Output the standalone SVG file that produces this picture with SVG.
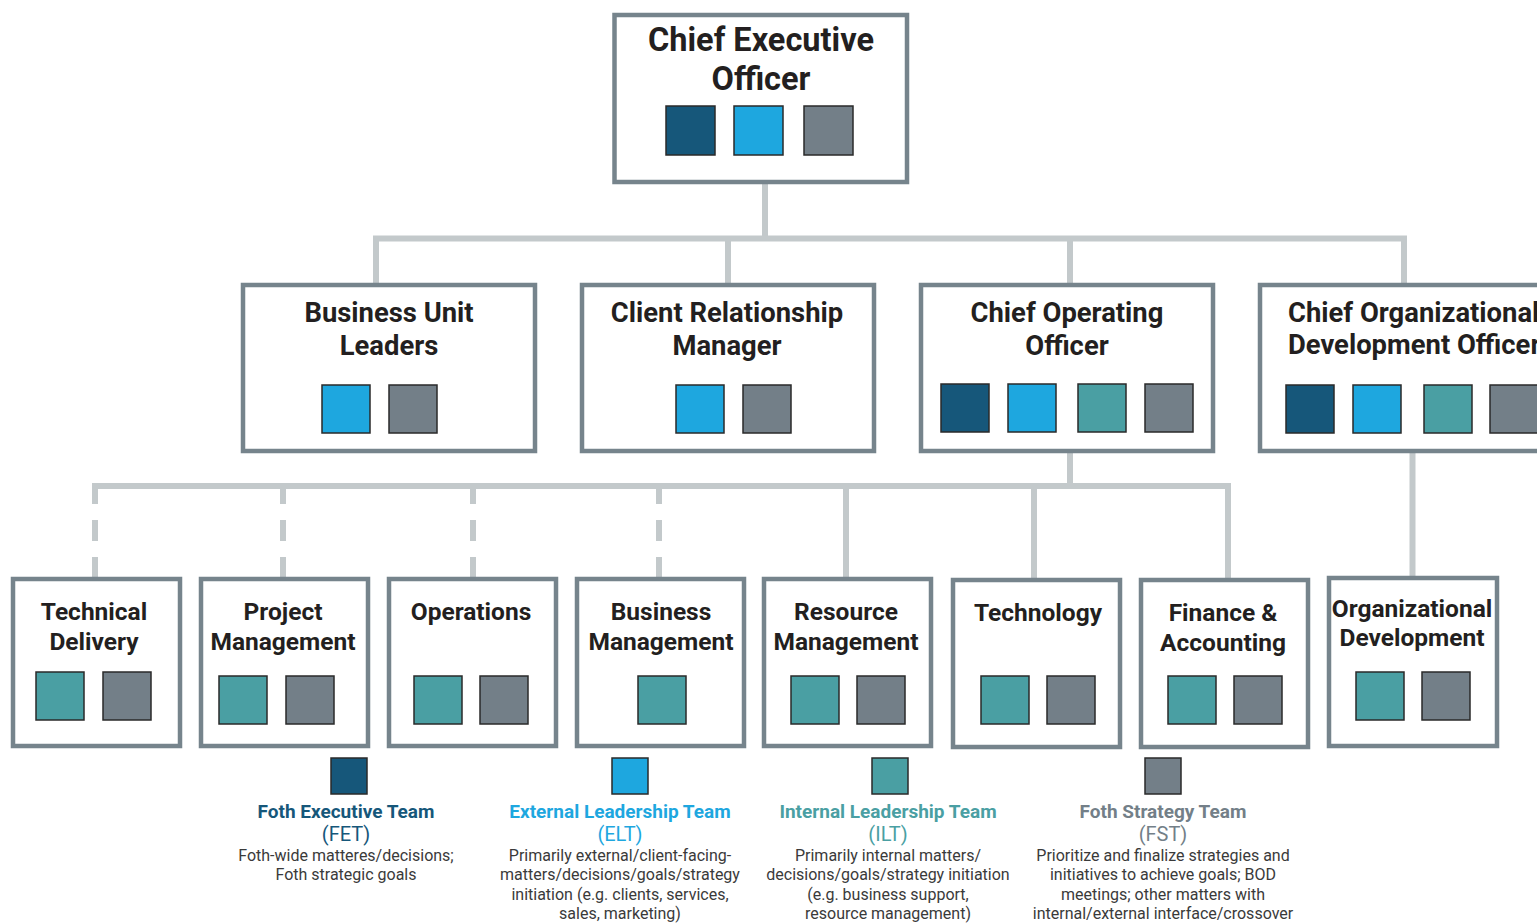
<svg xmlns="http://www.w3.org/2000/svg" width="1537" height="924" viewBox="0 0 1537 924">
<style>
.box{fill:#fff;stroke:#76848c;stroke-width:4.5}
.sq{stroke:#2a2a2a;stroke-width:1.5}
.c1{fill:#16577a}.c2{fill:#1ea7df}.c3{fill:#4a9fa3}.c4{fill:#737f88}
.t1{font-family:Roboto,"Liberation Sans",sans-serif;font-weight:700;fill:#231f20;text-anchor:middle}
.ceo{font-size:32.5px}.l2{font-size:27.4px}.l3{font-size:24.5px}
.con{fill:none;stroke:#c3c9cb;stroke-width:6}
.dash{stroke-dasharray:21 16}
.lt{font-family:Roboto,"Liberation Sans",sans-serif;font-weight:700;font-size:19px;text-anchor:middle}
.la{font-family:Roboto,"Liberation Sans",sans-serif;font-weight:400;font-size:20px;text-anchor:middle}
.ld{font-family:Roboto,"Liberation Sans",sans-serif;font-weight:400;font-size:16px;text-anchor:middle;fill:#3a3a3a}
</style>
<rect width="1537" height="924" fill="#fff"/>
<g id="connectors">
<path class="con" d="M765,184 V238.5"/>
<path class="con" d="M376,283 V238.5 H1404 V283"/>
<path class="con" d="M728,238.5 V283"/>
<path class="con" d="M1070,238.5 V283"/>
<path class="con" d="M1070,453 V486"/>
<path class="con" d="M92,486 H1228 V578"/>
<path class="con" d="M846,486 V578"/>
<path class="con" d="M1034,486 V578"/>
<path class="con dash" d="M95,483 V578"/>
<path class="con dash" d="M283,483 V578"/>
<path class="con dash" d="M473,483 V578"/>
<path class="con dash" d="M659,483 V578"/>
<path class="con" d="M1412.5,453 V577"/>
</g>
<g id="ceo">
<rect class="box" x="614.5" y="15" width="292.5" height="167"/>
<text class="t1 ceo" x="761" y="51">Chief Executive</text>
<text class="t1 ceo" x="761" y="90">Officer</text>
<rect class="sq c1" x="666" y="106" width="49" height="49"/>
<rect class="sq c2" x="734" y="106" width="49" height="49"/>
<rect class="sq c4" x="804" y="106" width="49" height="49"/>
</g>
<g id="business-unit-leaders">
<rect class="box" x="243" y="285" width="292" height="166"/>
<text class="t1 l2" x="389" y="322">Business Unit</text>
<text class="t1 l2" x="389" y="355">Leaders</text>
<rect class="sq c2" x="322" y="385" width="48" height="48"/>
<rect class="sq c4" x="389" y="385" width="48" height="48"/>
</g>
<g id="client-relationship-manager">
<rect class="box" x="582" y="285" width="292" height="166"/>
<text class="t1 l2" x="727" y="322">Client Relationship</text>
<text class="t1 l2" x="727" y="355">Manager</text>
<rect class="sq c2" x="676" y="385" width="48" height="48"/>
<rect class="sq c4" x="743" y="385" width="48" height="48"/>
</g>
<g id="coo">
<rect class="box" x="921" y="285" width="292" height="166"/>
<text class="t1 l2" x="1067" y="322">Chief Operating</text>
<text class="t1 l2" x="1067" y="355">Officer</text>
<rect class="sq c1" x="941" y="384" width="48" height="48"/>
<rect class="sq c2" x="1008" y="384" width="48" height="48"/>
<rect class="sq c3" x="1078" y="384" width="48" height="48"/>
<rect class="sq c4" x="1145" y="384" width="48" height="48"/>
</g>
<g id="codo">
<rect class="box" x="1260" y="285" width="292" height="166"/>
<text class="t1 l2" x="1288" y="322" style="text-anchor:start">Chief Organizational</text>
<text class="t1 l2" x="1288" y="354" style="text-anchor:start">Development Officer</text>
<rect class="sq c1" x="1286" y="385" width="48" height="48"/>
<rect class="sq c2" x="1353" y="385" width="48" height="48"/>
<rect class="sq c3" x="1424" y="385" width="48" height="48"/>
<rect class="sq c4" x="1490" y="385" width="48" height="48"/>
</g>
<g id="technical-delivery">
<rect class="box" x="13" y="579" width="167" height="167"/>
<text class="t1 l3" x="94" y="620">Technical</text>
<text class="t1 l3" x="94" y="650">Delivery</text>
<rect class="sq c3" x="36" y="672" width="48" height="48"/>
<rect class="sq c4" x="103" y="672" width="48" height="48"/>
</g>
<g id="project-management">
<rect class="box" x="201" y="579" width="167" height="167"/>
<text class="t1 l3" x="283" y="620">Project</text>
<text class="t1 l3" x="283" y="650">Management</text>
<rect class="sq c3" x="219" y="676" width="48" height="48"/>
<rect class="sq c4" x="286" y="676" width="48" height="48"/>
</g>
<g id="operations">
<rect class="box" x="389" y="579" width="167" height="167"/>
<text class="t1 l3" x="471" y="620">Operations</text>
<rect class="sq c3" x="414" y="676" width="48" height="48"/>
<rect class="sq c4" x="480" y="676" width="48" height="48"/>
</g>
<g id="business-management">
<rect class="box" x="577" y="579" width="167" height="167"/>
<text class="t1 l3" x="661" y="620">Business</text>
<text class="t1 l3" x="661" y="650">Management</text>
<rect class="sq c3" x="638" y="676" width="48" height="48"/>
</g>
<g id="resource-management">
<rect class="box" x="764" y="579" width="167" height="167"/>
<text class="t1 l3" x="846" y="620">Resource</text>
<text class="t1 l3" x="846" y="650">Management</text>
<rect class="sq c3" x="791" y="676" width="48" height="48"/>
<rect class="sq c4" x="857" y="676" width="48" height="48"/>
</g>
<g id="technology">
<rect class="box" x="953" y="580" width="167" height="167"/>
<text class="t1 l3" x="1038" y="621">Technology</text>
<rect class="sq c3" x="981" y="676" width="48" height="48"/>
<rect class="sq c4" x="1047" y="676" width="48" height="48"/>
</g>
<g id="finance-accounting">
<rect class="box" x="1141" y="580" width="167" height="167"/>
<text class="t1 l3" x="1223" y="621">Finance &amp;</text>
<text class="t1 l3" x="1223" y="651">Accounting</text>
<rect class="sq c3" x="1168" y="676" width="48" height="48"/>
<rect class="sq c4" x="1234" y="676" width="48" height="48"/>
</g>
<g id="organizational-development">
<rect class="box" x="1329" y="578" width="168" height="168"/>
<text class="t1 l3" x="1412" y="617">Organizational</text>
<text class="t1 l3" x="1412" y="646">Development</text>
<rect class="sq c3" x="1356" y="672" width="48" height="48"/>
<rect class="sq c4" x="1422" y="672" width="48" height="48"/>
</g>
<g id="legend-fet">
<rect class="sq c1" x="331" y="758" width="36" height="36"/>
<text class="lt" x="346" y="818" fill="#16577a">Foth Executive Team</text>
<text class="la" x="346" y="841" fill="#16577a">(FET)</text>
<text class="ld" x="346" y="861">Foth-wide matteres/decisions;</text>
<text class="ld" x="346" y="880">Foth strategic goals</text>
</g>
<g id="legend-elt">
<rect class="sq c2" x="612" y="758" width="36" height="36"/>
<text class="lt" x="620" y="818" fill="#1ea7df">External Leadership Team</text>
<text class="la" x="620" y="841" fill="#1ea7df">(ELT)</text>
<text class="ld" x="620" y="861">Primarily external/client-facing-</text>
<text class="ld" x="620" y="880">matters/decisions/goals/strategy</text>
<text class="ld" x="620" y="900">initiation (e.g. clients, services,</text>
<text class="ld" x="620" y="919">sales, marketing)</text>
</g>
<g id="legend-ilt">
<rect class="sq c3" x="872" y="758" width="36" height="36"/>
<text class="lt" x="888" y="818" fill="#4a9fa3">Internal Leadership Team</text>
<text class="la" x="888" y="841" fill="#4a9fa3">(ILT)</text>
<text class="ld" x="888" y="861">Primarily internal matters/</text>
<text class="ld" x="888" y="880">decisions/goals/strategy initiation</text>
<text class="ld" x="888" y="900">(e.g. business support,</text>
<text class="ld" x="888" y="919">resource management)</text>
</g>
<g id="legend-fst">
<rect class="sq c4" x="1145" y="758" width="36" height="36"/>
<text class="lt" x="1163" y="818" fill="#737f88">Foth Strategy Team</text>
<text class="la" x="1163" y="841" fill="#737f88">(FST)</text>
<text class="ld" x="1163" y="861">Prioritize and finalize strategies and</text>
<text class="ld" x="1163" y="880">initiatives to achieve goals; BOD</text>
<text class="ld" x="1163" y="900">meetings; other matters with</text>
<text class="ld" x="1163" y="919">internal/external interface/crossover</text>
</g>
</svg>
